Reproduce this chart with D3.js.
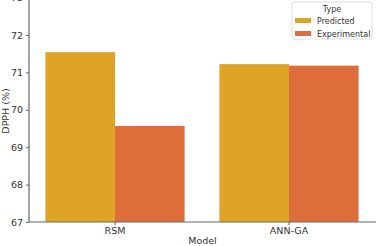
<!DOCTYPE html>
<html><head><meta charset="utf-8">
<script src="https://cdn.jsdelivr.net/npm/d3@7"></script>
<style>body{margin:0;background:#fff}svg{display:block}text{font-family:"DejaVu Sans",sans-serif}</style>
</head><body><svg id="c" width="378" height="246"></svg>
<script>
const models = ["RSM", "ANN-GA"];
const types = ["Predicted", "Experimental"];
const predicted = [71.54, 71.22];
const experimental = [69.57, 71.18];
const yTicks = [67, 68, 69, 70, 71, 72, 73];
const colors = ["#DFA325", "#DD6E3C"];

const svg = d3.select("#c");
const mLeft = 29, mRight = 376, mTop = 0, mBottom = 222;
const y = d3.scaleLinear().domain([67, 72.935]).range([mBottom, mTop]);
const x = d3.scaleBand().domain(models).range([28, 376]).paddingInner(0.2).paddingOuter(0.1);
const xs = d3.scaleBand().domain(types).range([0, x.bandwidth()]);

const data = models.map((m, i) => ({model: m, values: [predicted[i], experimental[i]]}));

const g = svg.append("g");
g.selectAll("g.grp").data(data).join("g")
  .attr("transform", d => `translate(${x(d.model)},0)`)
  .selectAll("rect").data(d => d.values.map((v, j) => ({type: types[j], v, j})))
  .join("rect")
  .attr("x", d => xs(d.type))
  .attr("width", xs.bandwidth())
  .attr("y", d => y(d.v))
  .attr("height", d => y(67) - y(d.v))
  .attr("fill", d => colors[d.j]);

// y axis
const ya = svg.append("g").attr("transform", `translate(${mLeft},0)`)
  .call(d3.axisLeft(y).tickValues(yTicks).tickSize(3).tickPadding(3).tickFormat(d3.format("d")));
ya.select(".domain").attr("stroke", "#666").attr("stroke-width", 1.2).attr("d", `M0,${mBottom}V-5`);
ya.selectAll(".tick line").attr("stroke", "#666");
ya.selectAll(".tick text").attr("fill", "#333").style("font-size", "9.5px");

// x axis
const xa = svg.append("g").attr("transform", `translate(0,${mBottom})`)
  .call(d3.axisBottom(x).tickSize(3).tickPadding(2));
xa.select(".domain").attr("stroke", "#666").attr("stroke-width", 1.2).attr("d", `M${mLeft},0H${mRight}`);
xa.selectAll(".tick line").attr("stroke", "#555");
xa.selectAll(".tick text").attr("fill", "#333").style("font-size", "9.5px");

svg.append("text").attr("x", (mLeft + mRight) / 2).attr("y", 244)
  .attr("text-anchor", "middle").attr("fill", "#333").style("font-size", "9.5px").text("Model");
svg.append("text").attr("transform", `translate(9,${(mTop + mBottom) / 2}) rotate(-90)`)
  .attr("text-anchor", "middle").attr("fill", "#333").style("font-size", "9.5px").text("DPPH (%)");

// legend
const lg = svg.append("g").attr("transform", "translate(292,2)");
lg.append("rect").attr("width", 80).attr("height", 37).attr("rx", 2)
  .attr("fill", "#fff").attr("fill-opacity", 0.85).attr("stroke", "#ddd");
lg.append("text").attr("x", 40).attr("y", 10).attr("text-anchor", "middle")
  .attr("fill", "#333").style("font-size", "8px").text("Type");
types.forEach((t, i) => {
  lg.append("rect").attr("x", 3).attr("y", 16 + i * 13).attr("width", 16).attr("height", 5).attr("fill", colors[i]);
  lg.append("text").attr("x", 25).attr("y", 21.5 + i * 13).attr("fill", "#333").style("font-size", "8px").text(t);
});
</script></body></html>
